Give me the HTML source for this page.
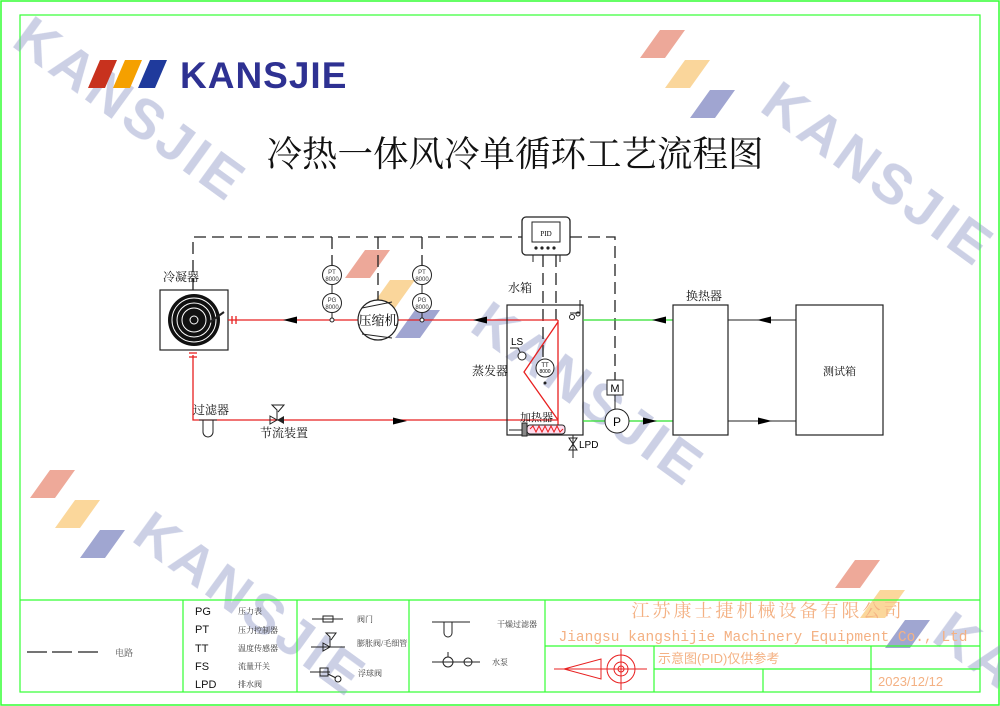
<!DOCTYPE html>
<html><head><meta charset="utf-8"><style>
html,body{margin:0;padding:0;background:#fff;width:1000px;height:706px;overflow:hidden;}
svg{display:block;overflow:hidden;}
.cn{font-family:"Liberation Serif","Noto Serif CJK SC",serif;}
.sn{font-family:"Liberation Sans","Noto Sans CJK SC",sans-serif;}
</style></head><body>
<svg width="1000" height="706" viewBox="0 0 1000 706" xmlns="http://www.w3.org/2000/svg">
<defs>
<clipPath id="cp"><rect x="0" y="0" width="1000" height="706"/></clipPath>
<g id="arrL"><polygon points="0,0 14,-3.5 14,3.5" fill="#000"/></g>
<g id="arrR"><polygon points="0,0 -14,-3.5 -14,3.5" fill="#000"/></g>
<g id="stripes" opacity="0.45">
<polygon points="20,0 45,0 25,28 0,28" fill="#d9401e"/>
<polygon points="45,30 70,30 50,58 25,58" fill="#f5a623"/>
<polygon points="70,60 95,60 75,88 50,88" fill="#2e3a9a"/>
</g>
</defs>
<rect x="1" y="1" width="998" height="704" fill="none" stroke="#3f3" stroke-width="1.5"/>
<rect x="20" y="15" width="960" height="677" fill="none" stroke="#3f3" stroke-width="1.2"/>

<g clip-path="url(#cp)">
<g fill="#8d97c6" opacity="0.45" font-family="Liberation Sans,sans-serif" font-weight="bold" font-size="56">
<text transform="translate(10,45) rotate(36)" letter-spacing="4">KANSJIE</text>
<text transform="translate(758,110) rotate(36)" letter-spacing="4">KANSJIE</text>
<text transform="translate(468,330) rotate(36)" letter-spacing="4">KANSJIE</text>
<text transform="translate(130,540) rotate(36)" letter-spacing="4">KANSJIE</text>
<text transform="translate(930,640) rotate(36)" letter-spacing="4">KA</text>
</g>
<use href="#stripes" transform="translate(640,30)"/>
<use href="#stripes" transform="translate(345,250)"/>
<use href="#stripes" transform="translate(30,470)"/>
<use href="#stripes" transform="translate(835,560)"/>
</g>

<polygon points="100,60 117,60 105,88 88,88" fill="#c8321e"/>
<polygon points="125,60 142,60 130,88 113,88" fill="#f5a000"/>
<polygon points="150,60 167,60 155,88 138,88" fill="#1f3a9c"/>
<text x="180" y="88" font-family="Liberation Sans,sans-serif" font-weight="bold" font-size="37" fill="#2e3192" letter-spacing="1">KANSJIE</text>

<text x="515" y="166" text-anchor="middle" class="cn" font-size="35.5" fill="#111">冷热一体风冷单循环工艺流程图</text>

<g stroke="#222" stroke-width="1.3" stroke-dasharray="12,6" fill="none">
<polyline points="193,290 193,237 522,237"/>
<polyline points="570,237 615,237 615,380"/>
<line x1="332" y1="237" x2="332" y2="265"/>
<line x1="422" y1="237" x2="422" y2="265"/>
<line x1="378" y1="237" x2="378" y2="300"/>
<line x1="543" y1="255" x2="543" y2="357"/>
<line x1="556" y1="255" x2="556" y2="320"/>
</g>
<rect x="522" y="217" width="48" height="38" rx="4" fill="#fff" stroke="#222" stroke-width="1.3"/>
<rect x="532" y="222" width="28" height="20" fill="none" stroke="#222"/>
<text x="546" y="236" text-anchor="middle" font-size="7" class="cn">PID</text>
<g fill="#222"><circle cx="536" cy="248" r="1.6"/><circle cx="542" cy="248" r="1.6"/><circle cx="548" cy="248" r="1.6"/><circle cx="554" cy="248" r="1.6"/></g>
<line x1="533" y1="255" x2="533" y2="262" stroke="#222"/><line x1="560" y1="255" x2="560" y2="262" stroke="#222"/>

<rect x="160" y="290" width="68" height="60" fill="#fff" stroke="#222" stroke-width="1.2"/>
<circle cx="194" cy="320" r="26" fill="#111"/>
<g fill="none" stroke="#fff" stroke-width="1"><circle cx="194" cy="320" r="22"/><circle cx="194" cy="320" r="17"/><circle cx="194" cy="320" r="12"/><circle cx="194" cy="320" r="4"/></g>
<line x1="210" y1="322" x2="224" y2="312" stroke="#222" stroke-width="2"/>

<g stroke="#e82020" stroke-width="1.3" fill="none">
<line x1="228" y1="320" x2="358" y2="320"/>
<line x1="398" y1="320" x2="558" y2="320"/>
<polyline points="193,355 193,420 558,420"/>
<polyline points="558,320 558,425"/>
<polyline points="558,322 524,372 558,420"/>
<line x1="232" y1="316" x2="232" y2="324"/><line x1="236" y1="316" x2="236" y2="324"/>
<line x1="189" y1="353" x2="197" y2="353"/><line x1="189" y1="357" x2="197" y2="357"/>
</g>
<use href="#arrL" x="283" y="320"/>
<use href="#arrL" x="473" y="320"/>
<use href="#arrR" x="407" y="421"/>

<g fill="#fff" stroke="#222" stroke-width="1">
<line x1="332" y1="265" x2="332" y2="318"/><line x1="422" y1="265" x2="422" y2="318"/>
<circle cx="332" cy="275" r="9.5"/><circle cx="332" cy="303" r="9.5"/><circle cx="332" cy="320" r="2"/>
<circle cx="422" cy="275" r="9.5"/><circle cx="422" cy="303" r="9.5"/><circle cx="422" cy="320" r="2"/>
</g>
<g font-size="6" text-anchor="middle" class="sn" fill="#333">
<text x="332" y="274">PT</text><text x="332" y="281">8000</text><text x="332" y="302">PG</text><text x="332" y="309">8000</text>
<text x="422" y="274">PT</text><text x="422" y="281">8000</text><text x="422" y="302">PG</text><text x="422" y="309">8000</text>
</g>
<circle cx="378" cy="320" r="20" fill="#fff" stroke="#222" stroke-width="1.2"/>
<line x1="362" y1="308" x2="392" y2="302" stroke="#222"/><line x1="362" y1="334" x2="392" y2="338" stroke="#222"/>
<text x="378" y="325" text-anchor="middle" class="cn" font-size="13">压缩机</text>

<path d="M203,420 L203,432 A5,5 0 0 0 213,432 L213,420" fill="none" stroke="#222"/>
<line x1="199" y1="420" x2="217" y2="420" stroke="#222"/>
<polygon points="270,416 277,420 270,424" fill="none" stroke="#222"/><polygon points="284,416 277,420 284,424" fill="#222"/>
<polyline points="277,420 277,410 272,405 284,405 278,412" fill="none" stroke="#222"/>

<rect x="507" y="305" width="76" height="130" fill="none" stroke="#222" stroke-width="1.2"/>
<text x="511" y="345" class="sn" font-size="10">LS</text>
<polyline points="510,348 518,348 520,352" fill="none" stroke="#222"/><circle cx="522" cy="356" r="4" fill="#fff" stroke="#222"/>
<circle cx="545" cy="368" r="9" fill="#fff" stroke="#222"/>
<text x="545" y="367" font-size="6" text-anchor="middle" class="sn">TT</text><text x="545" y="373" font-size="5" text-anchor="middle" class="sn">8000</text>
<circle cx="545" cy="383" r="1.5" fill="#222"/>
<polyline points="580,300 580,313 570,313" fill="none" stroke="#222"/><circle cx="572" cy="317" r="2.5" fill="none" stroke="#222"/><circle cx="578" cy="314" r="2" fill="none" stroke="#222"/>
<rect x="527" y="425" width="38" height="9" rx="3" fill="#fde" stroke="#222"/>
<polyline points="530,429 533,426 536,432 539,426 542,432 545,426 548,432 551,426 554,432 557,426 560,432 563,429" fill="none" stroke="#e82020"/>
<rect x="522" y="423" width="5" height="13" fill="#888" stroke="#222"/>
<polyline points="509,430 522,430" stroke="#222"/>
<line x1="573" y1="435" x2="573" y2="458" stroke="#222"/>
<polygon points="569,438 577,438 573,444 569,450 577,450 573,444" fill="none" stroke="#222"/>
<text x="579" y="448" class="sn" font-size="10">LPD</text>

<g stroke="#2ee02e" stroke-width="1.3">
<line x1="583" y1="320" x2="673" y2="320"/>
<line x1="583" y1="421" x2="605" y2="421"/><line x1="629" y1="421" x2="673" y2="421"/>
</g>
<use href="#arrL" x="652" y="320"/>
<use href="#arrR" x="657" y="421"/>
<line x1="615" y1="395" x2="615" y2="409" stroke="#222"/>
<rect x="607" y="380" width="16" height="15" fill="#fff" stroke="#222"/>
<text x="615" y="392" text-anchor="middle" class="sn" font-size="11">M</text>
<circle cx="617" cy="421" r="12" fill="#fff" stroke="#222"/>
<text x="617" y="426" text-anchor="middle" class="sn" font-size="12">P</text>

<rect x="673" y="305" width="55" height="130" fill="none" stroke="#222" stroke-width="1.2"/>
<rect x="796" y="305" width="87" height="130" fill="none" stroke="#222" stroke-width="1.2"/>
<line x1="728" y1="320" x2="796" y2="320" stroke="#222"/>
<line x1="728" y1="421" x2="796" y2="421" stroke="#222"/>
<use href="#arrL" x="757" y="320"/>
<use href="#arrR" x="772" y="421"/>

<g class="cn" font-size="12" fill="#111">
<text x="163" y="281">冷凝器</text>
<text x="508" y="292">水箱</text>
<text x="472" y="375">蒸发器</text>
<text x="520" y="421" font-size="11">加热器</text>
<text x="193" y="414">过滤器</text>
<text x="260" y="437">节流装置</text>
<text x="686" y="300">换热器</text>
<text x="823" y="375" font-size="11">测试箱</text>
</g>

<g stroke="#3f3" stroke-width="1.2" fill="none">
<line x1="20" y1="600" x2="980" y2="600"/>
<line x1="183" y1="600" x2="183" y2="692"/>
<line x1="297" y1="600" x2="297" y2="692"/>
<line x1="409" y1="600" x2="409" y2="692"/>
<line x1="545" y1="600" x2="545" y2="692"/>
<line x1="545" y1="646" x2="980" y2="646"/>
<line x1="654" y1="669" x2="980" y2="669"/>
<line x1="654" y1="646" x2="654" y2="692"/>
<line x1="871" y1="646" x2="871" y2="692"/>
<line x1="763" y1="669" x2="763" y2="692"/>
</g>
<g stroke="#222" stroke-width="1.2"><line x1="27" y1="652" x2="47" y2="652"/><line x1="52" y1="652" x2="72" y2="652"/><line x1="78" y1="652" x2="98" y2="652"/></g>
<text x="115" y="656" class="cn" font-size="9" fill="#555">电路</text>
<g class="sn" font-size="11" fill="#111">
<text x="195" y="615">PG</text><text x="195" y="633">PT</text><text x="195" y="652">TT</text><text x="195" y="670">FS</text><text x="195" y="688">LPD</text>
</g>
<g class="cn" font-size="8" fill="#333">
<text x="238" y="614">压力表</text><text x="238" y="633">压力控制器</text><text x="238" y="651">温度传感器</text><text x="238" y="669">流量开关</text><text x="238" y="687">排水阀</text>
<text x="357" y="622">阀门</text><text x="357" y="646">膨胀阀/毛细管</text><text x="358" y="676">浮球阀</text>
<text x="497" y="627">干燥过滤器</text><text x="492" y="665">水泵</text>
</g>
<g stroke="#222" fill="none">
<line x1="312" y1="619" x2="343" y2="619"/><rect x="323" y="616" width="10" height="6"/>
<line x1="311" y1="647" x2="345" y2="647"/><polygon points="323,643 330,647 323,651"/><polyline points="330,647 330,637 326,633 336,633 331,640"/>
<line x1="310" y1="672" x2="330" y2="672"/><rect x="320" y="668" width="8" height="8"/><line x1="328" y1="674" x2="336" y2="678"/><circle cx="338" cy="679" r="3"/>
<line x1="432" y1="622" x2="470" y2="622"/><path d="M444,622 L444,633 A4,4 0 0 0 452,633 L452,622"/>
<line x1="432" y1="662" x2="480" y2="662"/><circle cx="448" cy="662" r="5"/><circle cx="468" cy="662" r="4"/><line x1="448" y1="652" x2="448" y2="657"/>
</g>

<text x="768" y="617" text-anchor="middle" class="cn" font-size="18" fill="#f4b183" letter-spacing="3">江苏康士捷机械设备有限公司</text>
<text x="763" y="641" text-anchor="middle" font-family="Liberation Mono,monospace" font-size="14.5" fill="#f4b183">Jiangsu kangshijie Machinery Equipment Co., Ltd</text>
<text x="658" y="663" class="sn" font-size="13" fill="#f4b183">示意图(PID)仅供参考</text>
<text x="878" y="686" class="sn" font-size="13" fill="#f4b183">2023/12/12</text>
<g stroke="#e82020" fill="none" stroke-width="1">
<polygon points="564,669 601,659 601,679"/><line x1="554" y1="669" x2="647" y2="669"/>
<circle cx="621" cy="669" r="14"/><circle cx="621" cy="669" r="7"/><circle cx="621" cy="669" r="3"/><line x1="621" y1="649" x2="621" y2="690"/>
</g>
</svg>
</body></html>
